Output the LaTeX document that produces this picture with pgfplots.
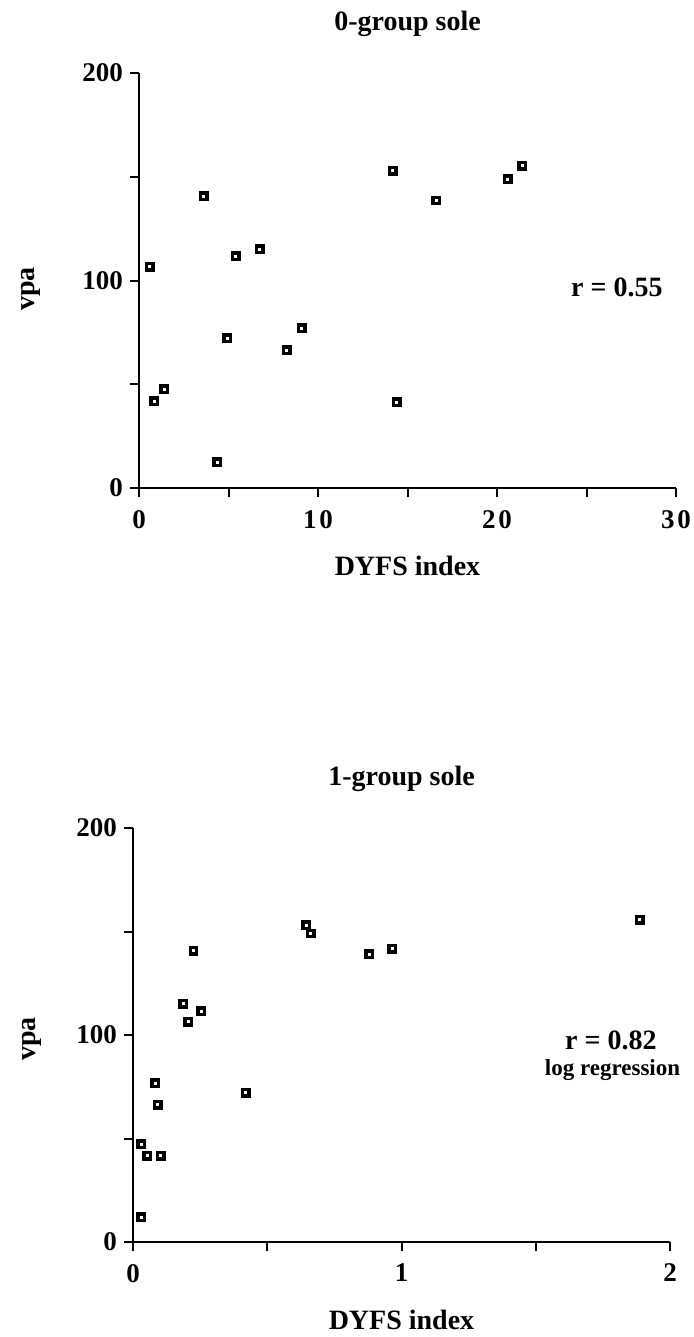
\documentclass[border=0pt]{standalone}
\usepackage{fontspec}
\setmainfont{Liberation Serif}
\usepackage{pgfplots}
\pgfplotsset{compat=1.18}
\begin{document}
\begin{tikzpicture}
\path[use as bounding box] (0,0) rectangle (346.5pt,-668.5pt);
\pgfplotsset{
  soleaxis/.style={
    scale only axis,
    axis lines=left,
    axis line style={-, line width=1pt},
    tick style={line width=1pt, black},
    tick align=outside,
    major tick length=4.5pt,
    clip=false,
    ymin=0, ymax=200,
    ytick={0,50,100,150,200},
    yticklabels={0,,100,,200},
    ticklabel style={font=\bfseries\fontsize{13.5}{15}\selectfont},
    label style={font=\bfseries\fontsize{14}{16}\selectfont},
    title style={font=\bfseries\fontsize{14}{16}\selectfont, at={(0.5,1)}, anchor=center, yshift=18.5pt},
    xlabel style={at={(axis description cs:0.5,0)}, anchor=center, yshift=-39pt},
    x tick label style={yshift=-3pt},
  },
  solemark/.style={only marks, mark=square*, mark size=1.6pt,
      mark options={fill=white, draw=black, line width=1.7pt, solid}},
}
% top
\begin{axis}[soleaxis,
  at={(69.5pt,-244pt)}, anchor=south west,
  width=268.5pt, height=207.5pt,
  xmin=0, xmax=30,
  xtick={0,5,10,15,20,25,30},
  xticklabels={0,,1\hspace{1.5pt}0,,2\hspace{1.5pt}0,,3\hspace{1.5pt}0},
  title={0-group sole},
  xlabel={DYFS index},
  ylabel={vpa},
  ylabel style={at={(axis description cs:-0.201,0.48)}, anchor=center},
]
\addplot[solemark] coordinates {
(0.60,106.7) (3.61,140.7) (5.40,111.8) (6.74,115) (14.18,152.8)
(16.6,138.6) (20.6,148.9) (21.4,155.3) (4.92,72.1) (9.09,77)
(8.25,66.5) (1.40,47.6) (0.85,41.9) (14.4,41.3) (4.37,12.4)
};
\node[font=\bfseries\fontsize{14}{16}\selectfont, anchor=center] at (rel axis cs:0.89,0.484) {r = 0.55};
\end{axis}
% bottom
\begin{axis}[soleaxis,
  at={(66.5pt,-621pt)}, anchor=south west,
  width=268.5pt, height=207pt,
  xmin=0, xmax=2,
  xtick={0,0.5,1,1.5,2},
  xticklabels={0,,1,,2},
  title={1-group sole},
  xlabel={DYFS index},
  ylabel={vpa},
  ylabel style={at={(axis description cs:-0.188,0.49)}, anchor=center},
]
\addplot[solemark] coordinates {
(1.888,155.7) (0.645,153.1) (0.662,149) (0.966,141.7) (0.880,139)
(0.225,140.6) (0.187,115) (0.254,111.6) (0.205,106.4) (0.082,76.8)
(0.092,66.3) (0.42,72) (0.031,47.3) (0.053,41.7) (0.104,41.7) (0.030,12)
};
\node[font=\bfseries\fontsize{14}{16}\selectfont, anchor=center] at (rel axis cs:0.89,0.488) {r = 0.82};
\node[font=\bfseries\fontsize{11.5}{13}\selectfont, anchor=center] at (rel axis cs:0.893,0.415) {log regression};
\end{axis}
\end{tikzpicture}
\end{document}
